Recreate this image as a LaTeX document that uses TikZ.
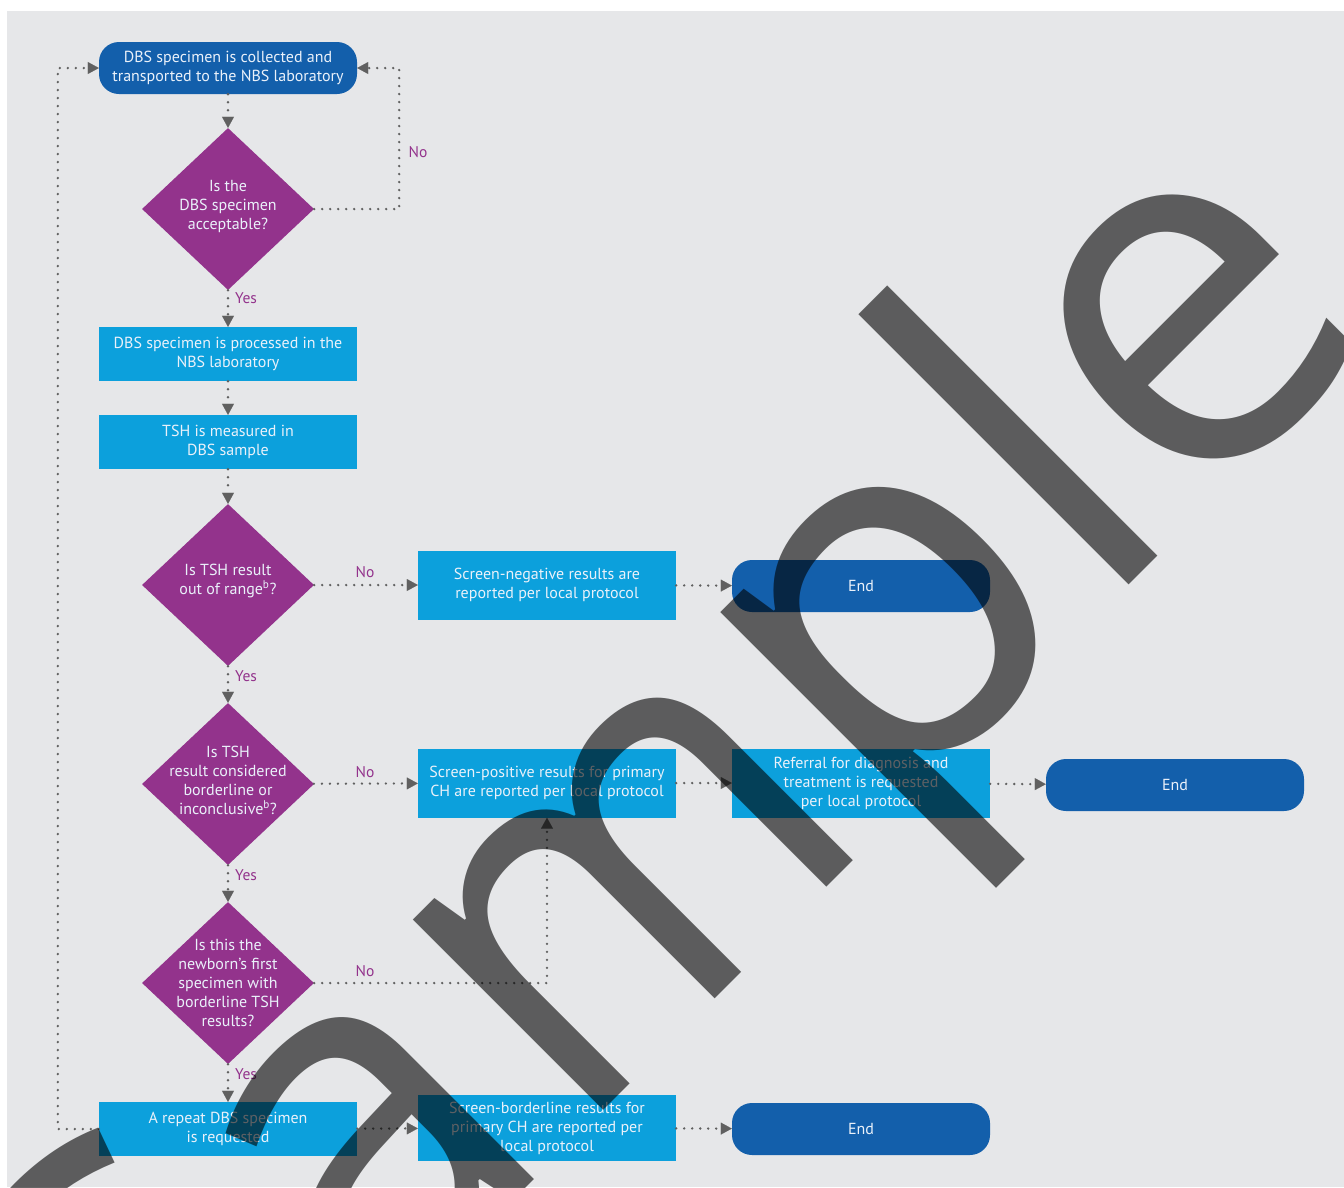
\documentclass[tikz,border=0pt]{standalone}
\usepackage{fontspec}
\setmainfont{PT Sans}
\newfontfamily\wmfont{Open Sans}
\usetikzlibrary{shapes.geometric,arrows.meta,calc}
\definecolor{panel}{HTML}{E6E7E9}
\definecolor{dblue}{HTML}{135FAB}
\definecolor{lblue}{HTML}{0CA0DC}
\definecolor{purp}{HTML}{93338C}
\definecolor{conngray}{HTML}{606060}
\definecolor{txt}{HTML}{EAF1FA}
\begin{document}
\begin{tikzpicture}[x=1pt,y=-1pt,
  every node/.style={font=\fontsize{16}{19}\selectfont},
  term/.style={fill=dblue, text=txt, rounded corners=20pt, minimum width=258pt, minimum height=52pt, align=center, inner sep=0pt},
  proc/.style={fill=lblue, text=txt, minimum width=258pt, minimum height=54pt, align=center, inner sep=0pt},
  dec/.style={diamond, fill=purp, minimum width=172pt, minimum height=162pt, inner sep=0pt},
  dtext/.style={text=txt, align=center, inner sep=0pt},
  conn/.style={draw=conngray, line width=2.6pt, dash pattern=on 0pt off 8pt, line cap=round,
    -{Triangle[length=11pt,width=12pt,line width=0.1pt]}},
  lab/.style={text=purp, font=\fontsize{15.5}{18}\selectfont, inner sep=0pt},
  wm/.style={font=\wmfont\fontsize{503}{503}\selectfont, text=black, text opacity=0.6, rotate=45, inner sep=0pt}
]
\fill[white] (0,0) rectangle (1344,1187);
\useasboundingbox (0,0) rectangle (1344,1187);
\fill[panel] (7,11) rectangle (1344,1187);

% left column
\node[term] (t1) at (228,68) {DBS specimen is collected and\\transported to the NBS laboratory};
\node[dec, label={[dtext, yshift=2.5pt]center:{Is the\\DBS specimen\\acceptable?}}] (d1) at (228,209) {};
\node[proc] (p1) at (228,354) {DBS specimen is processed in the\\NBS laboratory};
\node[proc] (p2) at (228,442) {TSH is measured in\\DBS sample};
\node[dec, label={[dtext, yshift=4pt]center:{Is TSH result\\out of range\textsuperscript{b}?}}] (d2) at (228,585) {};
\node[dec, label={[dtext, yshift=3.5pt]center:{Is TSH\\result considered\\borderline or\\inconclusive\textsuperscript{b}?}}] (d3) at (228,784) {};
\node[dec, label={[dtext]center:{Is this the\\newborn's first\\specimen with\\borderline TSH\\results?}}] (d4) at (228,983) {};
\node[proc] (rep) at (228,1129) {A repeat DBS specimen\\is requested};

% middle and right columns
\node[proc, minimum height=69pt] (sneg) at (547,585) {Screen-negative results are\\reported per local protocol};
\node[term] (e1) at (861,586) {End};
\node[proc, minimum height=69pt] (spos) at (547,783) {Screen-positive results for primary\\CH are reported per local protocol};
\node[proc, minimum height=69pt] (ref) at (861,783) {Referral for diagnosis and\\treatment is requested\\per local protocol};
\node[term] (e2) at (1175,785) {End};
\node[proc, minimum height=66pt] (sbord) at (547,1128) {Screen-borderline results for\\primary CH are reported per\\local protocol};
\node[term] (e3) at (861,1129) {End};

% connectors
\draw[conn] (t1) -- (d1);
\draw[conn] (d1.east) -- ++(85,0) |- (t1.east);
\draw[conn] (d1) -- (p1);
\draw[conn] (p1) -- (p2);
\draw[conn] (p2) -- (d2);
\draw[conn] (d2) -- (sneg);
\draw[conn] (sneg) -- (e1);
\draw[conn] (d2) -- (d3);
\draw[conn] (d3) -- (spos);
\draw[conn] (spos) -- (ref);
\draw[conn] (ref) -- (e2);
\draw[conn] (d3) -- (d4);
\draw[conn] (d4.east) -| (spos.south);
\draw[conn] (d4) -- (rep);
\draw[conn] (rep) -- (sbord);
\draw[conn] (sbord) -- (e3);
\draw[conn] (rep.west) -- ++(-41,0) |- (t1.west);

% yes / no labels
\node[lab] (no1) at (418,152) {No};
\node[lab, anchor=west] (yes1) at (235,298) {Yes};
\node[lab] (no2) at (365,572) {No};
\node[lab, anchor=west] (yes2) at (235,676) {Yes};
\node[lab] (no3) at (365,772) {No};
\node[lab, anchor=west] (yes3) at (235,875) {Yes};
\node[lab] (no4) at (365,971) {No};
\node[lab, anchor=west] (yes4) at (235,1074) {Yes};

% watermark
\begin{scope}
\clip (0,0) rectangle (1344,1187);
\node[wm, anchor=base west, text opacity=0] (wph) at (156,1558) {Sam};
\node[wm, anchor=base west] (wple) at (wph.base east) {ple};
\node[wm, anchor=base east, xscale=0.92] (wmm) at (wph.base east) {m};
\node[wm, anchor=base east] (wsa) at ($(wmm.base west)+(-12,12)$) {Sa};
\end{scope}
\end{tikzpicture}
\end{document}
